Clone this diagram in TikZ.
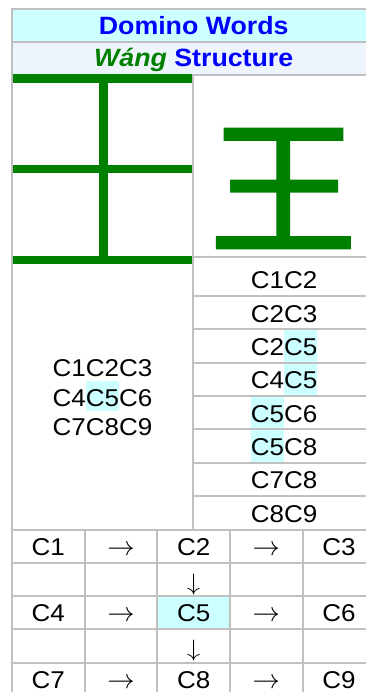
\documentclass[tikz,border=0pt]{standalone}
\usepackage{fontspec}
\usepackage{graphicx}
\setmainfont{Liberation Sans}[FakeStretch=1.07]
\newfontfamily\cjk{Noto Sans CJK SC}[FakeBold=1.5]

\definecolor{gridgray}{HTML}{C0C0C0}
\definecolor{titlebg}{HTML}{CCFFFF}
\definecolor{subbg}{HTML}{EEF4FB}
\definecolor{hlcyan}{HTML}{CCFFFF}
\definecolor{kgreen}{HTML}{008000}
\definecolor{kblue}{HTML}{0000FF}

% highlighted pieces: in the word list (left) and in the pair rows (right)
\newcommand{\hlleft}[1]{{\setlength{\fboxsep}{0pt}\colorbox{hlcyan}{\rule[-5pt]{0pt}{30.3pt}#1}}}
\newcommand{\hlright}[1]{{\setlength{\fboxsep}{0pt}\colorbox{hlcyan}{\rule[-7.3pt]{0pt}{33.3pt}#1}}}
\newcommand{\rarr}{\scalebox{1.1}{\(\rightarrow\)}}
\newcommand{\darr}{\scalebox{1.05}[0.95]{\(\downarrow\)}}

\tikzset{
  rule/.style={gridgray, line width=2pt},
  body/.style={inner sep=0pt, anchor=base, font=\fontsize{24.3}{29.5}\selectfont},
  head/.style={inner sep=0pt, anchor=base, font=\bfseries\fontsize{25}{30}\selectfont, text=kblue},
  downarrow/.style={inner sep=0pt, anchor=south, font=\fontsize{24.3}{29.5}\selectfont},
  bar/.style={fill=kgreen},
}

\begin{document}
\begin{tikzpicture}[x=1pt, y=-1pt]
\useasboundingbox (0,0) rectangle (366,692);
\clip (0,0) rectangle (366,692);

% header backgrounds
\fill[titlebg] (12,9) rectangle (376,41.7);
\fill[subbg] (12,41.7) rectangle (376,75);
% highlighted centre cell of the bottom grid
\fill[hlcyan] (157.3,596) rectangle (230.2,629.25);

% header texts
\node[head] (title) at (193.7,34.6) {Domino Words};
\node[head] (subtitle) at (193.7,67) {{\color{kgreen}\itshape Wáng} Structure};

% character
\node[inner sep=0pt, text=kgreen, font=\cjk\fontsize{148}{148}\selectfont] (char) at (283.4,188.5) {王};

% word list on the left
\node[body] (w1) at (102.5,376.7) {C1C2C3};
\node[body] (w2) at (102.5,406.2) {C4\hlleft{C5}C6};
\node[body] (w3) at (102.5,435.7) {C7C8C9};

% pair rows on the right
\node[body] (p1) at (284.2,288.7) {C1C2};
\node[body] (p2) at (284.2,322.1) {C2C3};
\node[body] (p3) at (284.2,355.4) {C2\hlright{C5}};
\node[body] (p4) at (284.2,388.8) {C4\hlright{C5}};
\node[body] (p5) at (284.2,422.1) {\hlright{C5}C6};
\node[body] (p6) at (284.2,455.5) {\hlright{C5}C8};
\node[body] (p7) at (284.2,488.9) {C7C8};
\node[body] (p8) at (284.2,522.2) {C8C9};

% bottom grid contents
\node[body] (g11) at (48.2,555.5) {C1};
\node[body] (g12) at (121,555.5) {\rarr};
\node[body] (g13) at (193.7,555.5) {C2};
\node[body] (g14) at (266.4,555.5) {\rarr};
\node[body] (g15) at (339,555.5) {C3};
\node[downarrow] (g23) at (193.7,595) {\darr};
\node[body] (g31) at (48.2,621.9) {C4};
\node[body] (g32) at (121,621.9) {\rarr};
\node[body] (g33) at (193.7,621.9) {C5};
\node[body] (g34) at (266.4,621.9) {\rarr};
\node[body] (g35) at (339,621.9) {C6};
\node[downarrow] (g43) at (193.7,661.5) {\darr};
\node[body] (g51) at (48.2,688.5) {C7};
\node[body] (g52) at (121,688.5) {\rarr};
\node[body] (g53) at (193.7,688.5) {C8};
\node[body] (g54) at (266.4,688.5) {\rarr};
\node[body] (g55) at (339,688.5) {C9};

% table rules
\draw[rule] (11,9) -- (376,9);
\draw[rule] (12,41.7) -- (376,41.7);
\draw[rule] (12,75) -- (376,75);
\draw[rule] (12,8) -- (12,700);
\draw[rule] (193,75) -- (193,529.5);
\foreach \y in {257,296,329.4,362.7,396.1,429.4,462.8,496.2}
  \draw[rule] (193,\y) -- (376,\y);
\foreach \y in {529.5,562.75,596,629.25,662.5}
  \draw[rule] (12,\y) -- (376,\y);
\foreach \x in {84.5,157.3,230.2,302.6}
  \draw[rule] (\x,529.5) -- (\x,700);

% structure diagram: three horizontal bars and a vertical stroke
\fill[bar] (13,74) rectangle (192,82.7);
\fill[bar] (13,165) rectangle (192,173.3);
\fill[bar] (13,256) rectangle (192,264.3);
\fill[bar] (99,82.7) rectangle (107.7,256);
\end{tikzpicture}
\end{document}
